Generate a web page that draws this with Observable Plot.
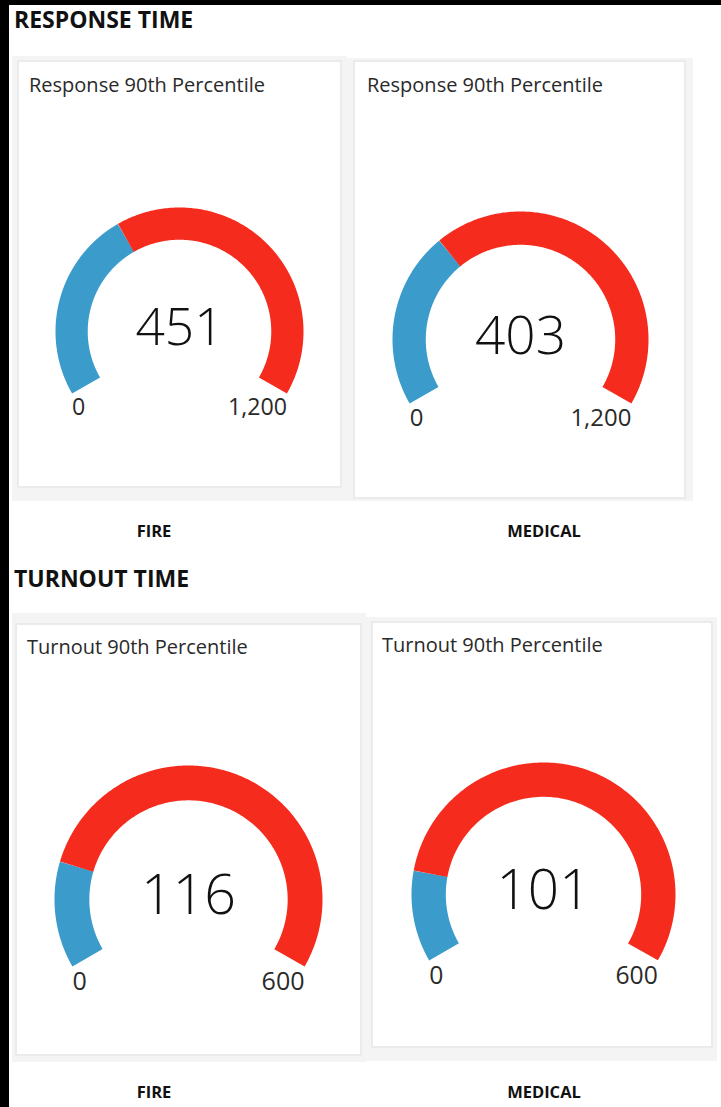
<!DOCTYPE html>
<html><head><meta charset="utf-8">
<script src="https://cdn.jsdelivr.net/npm/d3@7"></script>
<script src="https://cdn.jsdelivr.net/npm/@observablehq/plot@0.6"></script>
<style>
html,body{margin:0;padding:0;background:#fff;}
body{width:721px;height:1107px;position:relative;overflow:hidden;font-family:"Open Sans",sans-serif;}
.abs{position:absolute;}
.black{background:#000;}
.frame{background:#f4f4f4;}
.box{background:#fff;border:2px solid #ebebeb;box-sizing:border-box;}
.txt{position:absolute;line-height:1;white-space:nowrap;}
.gauge{position:absolute;}
</style></head>
<body>
<script>
// ---- data ----
const sectionTitles = ["RESPONSE TIME", "TURNOUT TIME"];
const categoryLabels = ["FIRE", "MEDICAL"];
const gaugeTitles = ["Response 90th Percentile", "Response 90th Percentile", "Turnout 90th Percentile", "Turnout 90th Percentile"];
const gaugeValues = [451, 403, 116, 101];
const gaugeMin = [0, 0, 0, 0];
const gaugeMax = [1200, 1200, 600, 600];

// ---- layout / style ----
const blueColor = "#3b9bcb";
const redColor = "#f52c1d";
const frames = [[12,56,335,445],[347,58,346,443],[12,613,354,449],[366,617,351,444]];
const boxes  = [[17,60,325,428],[353,60,333,439],[15,623,347,433],[371,621,342,427]];
const titlePos = [[29,93],[367,93],[27,655],[382,653]];
const centers = [[179,331],[520,339],[188,899],[543,894]];
const radii = [124,128,134,132];
const thicknessRatio = 0.26;
const sectionPos = [[14,28],[14,587]];
const categoryPos = [[154,538],[544,538],[154,1099],[544,1099]];

const fmt = d3.format(",");
const body = document.body;

function addDiv(cls, x, y, w, h){
  const d = document.createElement("div");
  d.className = cls;
  Object.assign(d.style,{left:x+"px",top:y+"px",width:w+"px",height:h+"px"});
  body.appendChild(d);
  return d;
}
function addText(text, x, baseline, size, weight, color, anchor){
  const d = document.createElement("div");
  d.className = "txt";
  d.textContent = text;
  Object.assign(d.style,{fontSize:size+"px",fontWeight:weight,color:color,top:(baseline-0.888*size)+"px"});
  if(anchor==="middle"){ d.style.left = x+"px"; d.style.transform="translateX(-50%)"; }
  else d.style.left = x+"px";
  body.appendChild(d);
}

// black bands
addDiv("abs black",0,0,721,5);
addDiv("abs black",0,0,9,1107);

sectionTitles.forEach((t,i)=>addText(t, sectionPos[i][0], sectionPos[i][1], 23, 700, "#111"));
categoryPos.forEach((p,i)=>addText(categoryLabels[i%2], p[0], p[1], 16.5, 700, "#111", "middle"));

function gauge(i){
  const [bx,by,bw,bh] = boxes[i];
  const cx = centers[i][0]-bx, cy = centers[i][1]-by, R = radii[i];
  const value = gaugeValues[i], min = gaugeMin[i], max = gaugeMax[i];
  const ang = v => (-120 + 240*(v-min)/(max-min)) * Math.PI/180;
  const rm = 1 - thicknessRatio/2;
  const segs = [
    {name:"value", from:min, to:value, color:blueColor},
    {name:"rest", from:value, to:max, color:redColor}
  ];
  const pts = segs.flatMap(s => d3.range(0,201).map(k => {
    const v = s.from + (s.to-s.from)*k/200;
    const a = ang(v);
    return {seg:s.name, color:s.color, x:rm*Math.sin(a), y:rm*Math.cos(a)};
  }));
  const endX = Math.sin(ang(max));
  return Plot.plot({
    width: bw, height: bh, margin: 0,
    x: {type:"linear", domain:[-1,1], range:[cx-R, cx+R], axis:null},
    y: {type:"linear", domain:[-1,1], range:[cy+R, cy-R], axis:null},
    color: {type:"identity"},
    style: {background:"transparent", overflow:"visible", fontFamily:"Open Sans"},
    marks: [
      Plot.line(pts, {x:"x", y:"y", z:"seg", stroke:"color", strokeWidth:thicknessRatio*R, strokeLinecap:"butt", strokeLinejoin:"round", curve:"linear"}),
      Plot.text([value], {x:0, y:-0.11, text:d=>fmt(d), fontSize:0.415*R, fontWeight:300, lineAnchor:"bottom", textAnchor:"middle", fill:"#111"}),
      Plot.text([min], {x:-endX, y:-0.675, text:d=>fmt(d), fontSize:0.187*R, lineAnchor:"bottom", textAnchor:"start", fill:"#2a2a2a"}),
      Plot.text([max], {x:endX, y:-0.675, text:d=>fmt(d), fontSize:0.187*R, lineAnchor:"bottom", textAnchor:"end", fill:"#2a2a2a"})
    ]
  });
}

gaugeValues.forEach((v,i)=>{
  addDiv("abs frame", ...frames[i]);
  addDiv("abs box", ...boxes[i]);
  addText(gaugeTitles[i], titlePos[i][0], titlePos[i][1], 20, 400, "#2a2a2a");
  const g = gauge(i);
  g.classList.add("gauge");
  g.style.left = boxes[i][0]+"px";
  g.style.top = boxes[i][1]+"px";
  body.appendChild(g);
});
</script>
</body></html>
